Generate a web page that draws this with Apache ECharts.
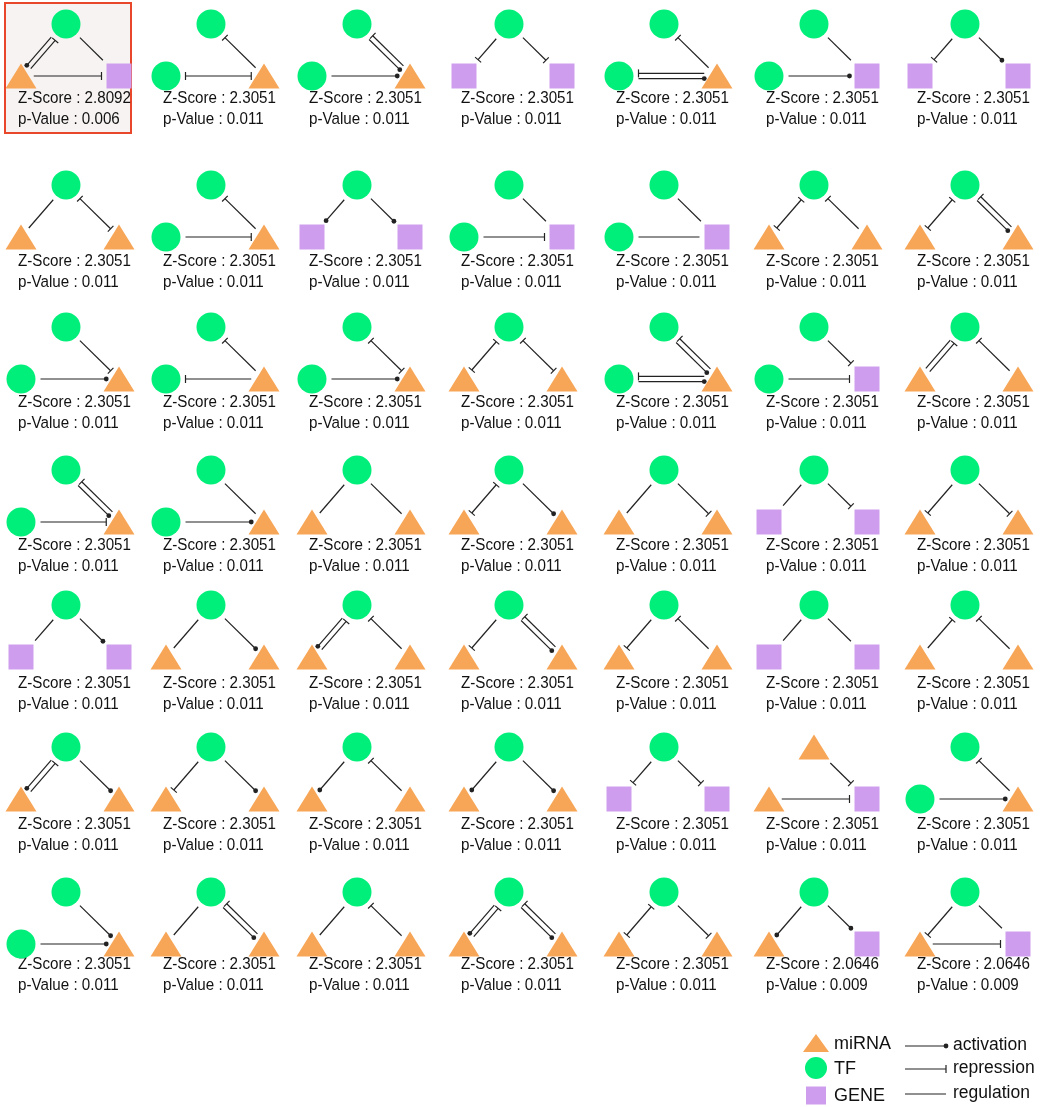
<!DOCTYPE html>
<html><head><meta charset="utf-8">
<script src="https://cdn.jsdelivr.net/npm/echarts@6/dist/echarts.min.js"></script>
<style>html,body{margin:0;padding:0;background:#fff}#c{width:1052px;height:1107px}</style>
</head><body><div id="c"></div>
<script>
// ---------------- DATA ----------------
// node kinds per motif: top, bottom-left, bottom-right  (c = TF, t = miRNA, s = GENE)
const motifNodes = [
 'cts','cct','cct','css','cct','ccs','css',
 'ctt','cct','css','ccs','ccs','ctt','ctt',
 'cct','cct','cct','ctt','cct','ccs','ctt',
 'cct','cct','ctt','ctt','ctt','css','ctt',
 'css','ctt','ctt','ctt','ctt','css','ctt',
 'ctt','ctt','ctt','ctt','css','tts','cct',
 'cct','ctt','ctt','ctt','ctt','cts','cts'
];
// edges: FromTo:type  (a = activation, r = repression, g = regulation, b = mutual repression on one line)
const motifEdges = [
 'TL:a LT:r TR:g LR:r','RT:r LR:b','RT:r TR:a LR:a','TL:r TR:r','RT:r LR:a RL:r','TR:g LR:a','TL:r TR:a',
 'TL:g TR:b','RT:r LR:r','TL:a TR:a','TR:g LR:r','TR:g LR:g','TL:b RT:r','TL:b TR:a RT:r',
 'TR:r LR:a','RT:r RL:r','TR:b LR:a','TL:b TR:b','RT:r TR:a RL:r LR:a','TR:r LR:r','LT:r TL:g RT:r',
 'RT:r TR:a LR:r','TR:g LR:a','TL:g TR:g','TL:b TR:a','TL:g TR:r','TL:g TR:r','TL:r TR:r',
 'TL:g TR:a','TL:g TR:a','LT:r TL:a RT:r','TL:r RT:r TR:a','TL:r RT:r','TL:g TR:g','LT:r RT:r',
 'LT:r TL:a TR:a','TL:r TR:a','TL:a RT:r','TL:a TR:a','TL:r TR:r','TR:r LR:r','RT:r LR:a',
 'TR:a LR:a','TL:g RT:r TR:a','TL:g RT:r','LT:r TL:a RT:r TR:a','TL:b TR:r','TL:a TR:a','TL:r TR:g LR:r'
];
const zScores = [
 2.8092,2.3051,2.3051,2.3051,2.3051,2.3051,2.3051,
 2.3051,2.3051,2.3051,2.3051,2.3051,2.3051,2.3051,
 2.3051,2.3051,2.3051,2.3051,2.3051,2.3051,2.3051,
 2.3051,2.3051,2.3051,2.3051,2.3051,2.3051,2.3051,
 2.3051,2.3051,2.3051,2.3051,2.3051,2.3051,2.3051,
 2.3051,2.3051,2.3051,2.3051,2.3051,2.3051,2.3051,
 2.3051,2.3051,2.3051,2.3051,2.3051,2.0646,2.0646
];
const pValues = [
 0.006,0.011,0.011,0.011,0.011,0.011,0.011,
 0.011,0.011,0.011,0.011,0.011,0.011,0.011,
 0.011,0.011,0.011,0.011,0.011,0.011,0.011,
 0.011,0.011,0.011,0.011,0.011,0.011,0.011,
 0.011,0.011,0.011,0.011,0.011,0.011,0.011,
 0.011,0.011,0.011,0.011,0.011,0.011,0.011,
 0.011,0.011,0.011,0.011,0.011,0.009,0.009
];
const nodeLegend = ['t','c','s'];
const nodeLegendNames = ['miRNA','TF','GENE'];
const edgeLegend = ['a','r','g'];
const edgeLegendNames = ['activation','repression','regulation'];

// ---------------- LAYOUT / STYLE ----------------
const colX = [66, 211, 357, 509, 664, 814, 965];
const rowTopY = [24, 185, 327, 470, 605, 747, 892];
const textZY = [99, 262, 403, 546, 684, 825, 965];
const NODE_OFF = {T:[0,0], L:[-45,52], R:[53,52]};
const KIND = {
  c:{symbol:'circle', size:[29,29], color:'#00EE7A'},
  t:{symbol:'triangle', size:[31,25], color:'#F7A556'},
  s:{symbol:'rect', size:[25,25], color:'#CF9DEE'}
};
const LEG_KIND_SIZE = {t:[26,18], c:[22,22], s:[20,18]};
const LINE_COLOR = '#222', LINE_W = 1.2, GAP = 5, DOUBLE_OFF = 2.6;

function textW(font, s){const c=document.createElement('canvas').getContext('2d'); c.font=font; return c.measureText(s).width;}
const sample = 'Z-Score : 2.3051';
const mainFamily = '"Liberation Sans", Arial, sans-serif';
const mainSize = 16.3;
const mainScaleX = 113 / textW(mainSize + 'px "Liberation Sans"', sample);
const legFamily = '"Liberation Sans", Arial, sans-serif';
const legSize = 18;

const IDX = {T:0, L:1, R:2};
const edgesOf = motifEdges.map(s => s.split(' ').map(t => ({a:t[0], b:t[1], type:t[3]})));

function nodeXY(m, k){
  const c = m % 7, r = Math.floor(m / 7);
  return [colX[c] + NODE_OFF[k][0], rowTopY[r] + NODE_OFF[k][1]];
}
function shapeDist(kind, ux, uy, sz){
  if (kind === 'c') return sz[0]/2;
  if (kind === 's') return (sz[0]/2)/Math.max(Math.abs(ux), Math.abs(uy));
  const w = sz[0]/2, h = sz[1]/2;
  const V = [[0,-h],[w,h],[-w,h]];
  let best = Infinity;
  for (let i=0;i<3;i++){
    const p = V[i], q = V[(i+1)%3];
    const ex = q[0]-p[0], ey = q[1]-p[1];
    const det = -ux*ey + ex*uy;
    if (Math.abs(det) < 1e-9) continue;
    const t = (-p[0]*ey + ex*p[1]) / det;
    const s = (ux*p[1] - uy*p[0]) / det;
    if (t > 0 && s >= -1e-6 && s <= 1+1e-6) best = Math.min(best, t);
  }
  return best === Infinity ? h : best;
}
function markerShapes(type, S, E, ux, uy){
  const out = [];
  const nx = -uy, ny = ux;
  const bar = (P) => ({type:'line', shape:{x1:P[0]+nx*4, y1:P[1]+ny*4, x2:P[0]-nx*4, y2:P[1]-ny*4},
                       style:{stroke:LINE_COLOR, lineWidth:LINE_W}});
  if (type === 'a') out.push({type:'circle', shape:{cx:E[0], cy:E[1], r:2.4}, style:{fill:LINE_COLOR}});
  if (type === 'r' || type === 'b') out.push(bar(E));
  if (type === 'b') out.push(bar(S));
  return out;
}
function mainText(str, P){
  return {type:'text', x:P[0], y:P[1], scaleX:mainScaleX,
    style:{text:str, x:0, y:0, fill:'#111', fontSize:mainSize, fontFamily:mainFamily,
           align:'left', verticalAlign:'middle', textAlign:'left', textVerticalAlign:'middle'}};
}

// ---------------- SERIES ----------------
const maxZ = Math.max.apply(null, zScores);
const highlightData = zScores.map((z,i)=>[i,z]).filter(d => d[1] === maxZ).map(d => [d[0]]);

const edgeData = [];
edgesOf.forEach((list, m) => list.forEach((e, k) => edgeData.push([m, k])));

const nodeData = [];
motifNodes.forEach((s, m) => {
  ['T','L','R'].forEach((k, i) => {
    const kd = KIND[s[i]];
    nodeData.push({value: nodeXY(m, k), symbol: kd.symbol, symbolSize: kd.size, itemStyle:{color: kd.color, opacity:1}});
  });
});

const legNodeY = [1043, 1068, 1095.5];
const legEdgeY = [1046, 1069, 1094];
const legNodeData = nodeLegend.map((k, i) => ({value:[816, legNodeY[i]], symbol:KIND[k].symbol,
  symbolSize:LEG_KIND_SIZE[k], itemStyle:{color:KIND[k].color, opacity:1}}));

const option = {
  animation:false,
  grid:{left:0, right:0, top:0, bottom:0},
  xAxis:{type:'value', min:0, max:1052, show:false},
  yAxis:{type:'value', min:0, max:1107, inverse:true, show:false},
  series:[
    { type:'custom', silent:true, clip:false, data: highlightData,
      renderItem(params, api){
        const m = api.value(0), c = m % 7, r = Math.floor(m/7);
        const p1 = api.coord([colX[c]-61, rowTopY[r]-21]);
        const p2 = api.coord([colX[c]+65, textZY[r]+34]);
        return {type:'rect', shape:{x:p1[0], y:p1[1], width:p2[0]-p1[0], height:p2[1]-p1[1]},
                style:{fill:'#F7F3F2', stroke:'#E9472C', lineWidth:2}};
      }},
    { type:'custom', silent:true, clip:false, data: edgeData,
      renderItem(params, api){
        const m = api.value(0), k = api.value(1);
        const ed = edgesOf[m][k];
        const kinds = motifNodes[m];
        const A = api.coord(nodeXY(m, ed.a)), B = api.coord(nodeXY(m, ed.b));
        const dx = B[0]-A[0], dy = B[1]-A[1], L = Math.hypot(dx, dy);
        const ux = dx/L, uy = dy/L;
        const isDouble = edgesOf[m].some(o => o.a === ed.b && o.b === ed.a);
        let ox = 0, oy = 0;
        if (isDouble){
          const canon = IDX[ed.a] < IDX[ed.b];
          const cx = canon ? ux : -ux, cy = canon ? uy : -uy;
          const s = canon ? DOUBLE_OFF : -DOUBLE_OFF;
          ox = -cy*s; oy = cx*s;
        }
        const ka = kinds[IDX[ed.a]], kb = kinds[IDX[ed.b]];
        const dA = shapeDist(ka, ux, uy, KIND[ka].size) + GAP;
        const dB = shapeDist(kb, -ux, -uy, KIND[kb].size) + GAP;
        const S = [A[0]+ux*dA+ox, A[1]+uy*dA+oy];
        const E = [B[0]-ux*dB+ox, B[1]-uy*dB+oy];
        const children = [{type:'line', shape:{x1:S[0], y1:S[1], x2:E[0], y2:E[1]},
                           style:{stroke:LINE_COLOR, lineWidth:LINE_W}}];
        return {type:'group', children: children.concat(markerShapes(ed.type, S, E, ux, uy))};
      }},
    { type:'scatter', silent:true, data: nodeData, itemStyle:{opacity:1} },
    { type:'custom', silent:true, clip:false, data: zScores.map((z,i)=>[i]),
      renderItem(params, api){
        const m = api.value(0), c = m % 7, r = Math.floor(m/7);
        const P = api.coord([colX[c]-48, textZY[r]]);
        const P2 = api.coord([colX[c]-48, textZY[r]+21]);
        return {type:'group', children:[
          mainText('Z-Score : ' + zScores[m].toFixed(4), P),
          mainText('p-Value : ' + pValues[m].toFixed(3), P2)
        ]};
      }},
    { type:'scatter', silent:true, data: legNodeData, itemStyle:{opacity:1} },
    { type:'custom', silent:true, clip:false, data: nodeLegendNames.map((n,i)=>[i]),
      renderItem(params, api){
        const i = api.value(0);
        const P = api.coord([834, legNodeY[i]+1]);
        return {type:'text', style:{text:nodeLegendNames[i], x:P[0], y:P[1], fill:'#111', fontSize:legSize,
          fontFamily:legFamily, align:'left', verticalAlign:'middle', textAlign:'left', textVerticalAlign:'middle'}};
      }},
    { type:'custom', silent:true, clip:false, data: edgeLegend.map((n,i)=>[i]),
      renderItem(params, api){
        const i = api.value(0);
        const S = api.coord([905, legEdgeY[i]]), E = api.coord([946, legEdgeY[i]]);
        const T = api.coord([953, legEdgeY[i]-1]);
        const children = [{type:'line', shape:{x1:S[0], y1:S[1], x2:E[0], y2:E[1]}, style:{stroke:LINE_COLOR, lineWidth:LINE_W}}]
          .concat(markerShapes(edgeLegend[i], S, E, 1, 0));
        children.push({type:'text', style:{text:edgeLegendNames[i], x:T[0], y:T[1], fill:'#111', fontSize:legSize-0.5,
          fontFamily:legFamily, align:'left', verticalAlign:'middle', textAlign:'left', textVerticalAlign:'middle'}});
        return {type:'group', children};
      }}
  ]
};
const chart = echarts.init(document.getElementById('c'), null, {renderer:'canvas'});
chart.setOption(option);
</script>
</body></html>
